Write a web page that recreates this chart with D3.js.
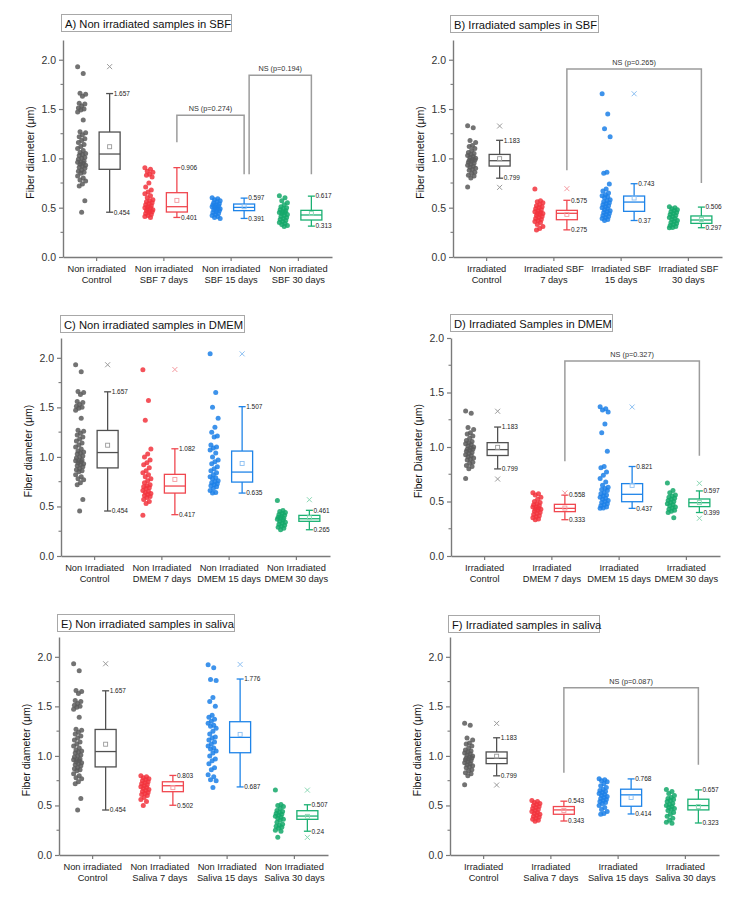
<!DOCTYPE html>
<html><head><meta charset="utf-8">
<script src="https://cdn.jsdelivr.net/npm/d3@7"></script>
<style>body{margin:0;background:#fff} text{font-family:Arial,"Liberation Sans",sans-serif}</style>
</head><body><svg id="c" width="754" height="910"></svg>
<script>
// ---------------- DATA ----------------
const titles = ["A) Non irradiated samples in SBF","B) Irradiated samples in SBF","C) Non irradiated samples in DMEM","D) Irradiated Samples in DMEM","E) Non irradiated samples in saliva","F) Irradiated samples in saliva"];
const yLabels = ["Fiber diameter (μm)","Fiber diameter (μm)","Fiber diameter (μm)","Fiber Diameter (μm)","Fiber diameter (μm)","Fiber diameter (μm)"];
const yMax = [2.2, 2.2, 2.2, 2.0, 2.2, 2.2];
const yTicks = [0.0, 0.5, 1.0, 1.5, 2.0];
const yMinorTicks = [0.25, 0.75, 1.25, 1.75];

const catsA = [["Non irradiated","Control"],["Non irradiated","SBF 7 days"],["Non irradiated","SBF 15 days"],["Non irradiated","SBF 30 days"]];
const catsB = [["Irradiated","Control"],["Irradiated SBF","7 days"],["Irradiated SBF","15 days"],["Irradiated SBF","30 days"]];
const catsC = [["Non Irradiated","Control"],["Non Irradiated","DMEM 7 days"],["Non Irradiated","DMEM 15 days"],["Non Irradiated","DMEM 30 days"]];
const catsD = [["Irradiated","Control"],["Irradiated","DMEM 7 days"],["Irradiated","DMEM 15 days"],["Irradiated","DMEM 30 days"]];
const catsE = [["Non irradiated","Control"],["Non Irradiated","Saliva 7 days"],["Non Irradiated","Saliva 15 days"],["Non Irradiated","Saliva 30 days"]];
const catsF = [["Irradiated","Control"],["Irradiated","Saliva 7 days"],["Irradiated","Saliva 15 days"],["Irradiated","Saliva 30 days"]];

// scatter values (µm)
const ctrlNI = [1.93,1.86,1.66,1.65,1.63,1.56,1.55,1.53,1.51,1.50,1.49,1.47,1.39,1.27,1.26,1.24,1.22,1.20,1.18,1.16,1.14,1.12,1.10,1.08,1.06,1.05,1.04,1.03,1.01,1.00,0.99,0.97,0.96,0.96,0.95,0.94,0.93,0.92,0.91,0.90,0.88,0.87,0.86,0.85,0.82,0.80,0.78,0.77,0.74,0.72,0.57,0.454];
const ctrlIR = [1.33,1.31,1.18,1.16,1.13,1.12,1.10,1.08,1.06,1.05,1.04,1.03,1.02,1.01,1.00,0.99,0.98,0.98,0.97,0.96,0.95,0.94,0.93,0.92,0.91,0.90,0.89,0.88,0.86,0.85,0.83,0.82,0.80,0.71];
const sbf7NI = [0.906,0.89,0.87,0.86,0.84,0.83,0.81,0.75,0.71,0.68,0.66,0.64,0.62,0.60,0.58,0.57,0.56,0.55,0.54,0.53,0.52,0.51,0.50,0.50,0.49,0.48,0.47,0.47,0.46,0.45,0.44,0.43,0.42,0.41,0.40];
const sbf15NI = [0.60,0.59,0.58,0.57,0.56,0.55,0.54,0.53,0.53,0.52,0.51,0.51,0.50,0.50,0.49,0.48,0.48,0.47,0.46,0.45,0.44,0.43,0.42,0.41,0.40,0.39];
const sbf30NI = [0.62,0.60,0.57,0.55,0.53,0.51,0.50,0.49,0.48,0.47,0.46,0.45,0.45,0.44,0.43,0.42,0.41,0.40,0.39,0.38,0.37,0.36,0.35,0.34,0.33,0.32,0.31];
const sbf7IR = [0.69,0.57,0.56,0.55,0.53,0.52,0.51,0.50,0.49,0.48,0.47,0.46,0.45,0.44,0.44,0.43,0.42,0.41,0.40,0.39,0.38,0.37,0.36,0.35,0.33,0.31,0.29,0.275];
const sbf15IR = [1.655,1.45,1.30,1.22,0.86,0.85,0.74,0.69,0.67,0.65,0.63,0.62,0.61,0.60,0.58,0.57,0.56,0.55,0.54,0.53,0.52,0.51,0.50,0.49,0.48,0.47,0.46,0.45,0.44,0.43,0.42,0.41,0.40,0.39,0.38,0.37];
const sbf30IR = [0.51,0.50,0.49,0.48,0.47,0.46,0.45,0.44,0.43,0.42,0.41,0.40,0.39,0.38,0.37,0.36,0.35,0.34,0.33,0.32,0.31,0.30,0.297];
const dmem7NI = [1.88,1.57,1.37,1.08,1.03,1.00,0.97,0.94,0.92,0.89,0.86,0.84,0.82,0.80,0.78,0.76,0.74,0.72,0.71,0.70,0.69,0.68,0.66,0.65,0.64,0.63,0.62,0.61,0.60,0.59,0.57,0.55,0.53,0.41];
const dmem15NI = [2.04,1.65,1.50,1.39,1.30,1.25,1.21,1.20,1.12,1.10,1.09,1.07,1.04,1.00,0.97,0.95,0.93,0.90,0.88,0.86,0.84,0.82,0.80,0.79,0.78,0.76,0.75,0.74,0.73,0.72,0.71,0.70,0.68,0.66,0.64,0.635];
const dmem30NI = [0.56,0.46,0.45,0.44,0.43,0.42,0.41,0.40,0.39,0.38,0.38,0.37,0.36,0.35,0.34,0.33,0.32,0.31,0.30,0.29,0.28,0.265];
const dmem7IR = [0.58,0.57,0.56,0.54,0.52,0.50,0.49,0.48,0.47,0.46,0.45,0.45,0.44,0.43,0.43,0.42,0.41,0.40,0.39,0.38,0.37,0.36,0.35,0.34,0.333];
const dmem15IR = [1.37,1.35,1.34,1.32,1.21,1.13,0.96,0.82,0.81,0.77,0.74,0.71,0.68,0.65,0.63,0.62,0.61,0.60,0.58,0.57,0.56,0.55,0.54,0.53,0.52,0.51,0.50,0.49,0.48,0.47,0.46,0.45,0.44,0.437];
const dmem30IR = [0.67,0.60,0.58,0.56,0.55,0.54,0.53,0.52,0.51,0.50,0.49,0.48,0.47,0.46,0.45,0.44,0.43,0.42,0.41,0.40,0.35];
const sal7NI = [0.80,0.79,0.78,0.77,0.76,0.75,0.74,0.73,0.72,0.71,0.70,0.69,0.68,0.67,0.66,0.65,0.64,0.63,0.62,0.61,0.60,0.58,0.56,0.54,0.50];
const sal15NI = [1.92,1.89,1.77,1.76,1.59,1.55,1.50,1.41,1.39,1.37,1.35,1.33,1.31,1.30,1.28,1.25,1.22,1.19,1.18,1.16,1.14,1.12,1.10,1.08,1.07,1.05,1.03,1.00,0.97,0.95,0.92,0.88,0.86,0.81,0.79,0.76,0.75,0.68];
const sal30NI = [0.655,0.51,0.50,0.49,0.47,0.45,0.44,0.43,0.42,0.41,0.40,0.39,0.38,0.37,0.36,0.35,0.33,0.31,0.30,0.29,0.28,0.27,0.25,0.24,0.18];
const sal7IR = [0.55,0.54,0.53,0.52,0.51,0.50,0.49,0.48,0.47,0.46,0.45,0.44,0.43,0.42,0.41,0.40,0.39,0.38,0.37,0.36,0.35,0.34];
const sal15IR = [0.77,0.76,0.75,0.74,0.72,0.70,0.68,0.66,0.65,0.64,0.63,0.62,0.61,0.60,0.59,0.58,0.57,0.56,0.55,0.54,0.53,0.52,0.50,0.48,0.46,0.44,0.42,0.41];
const sal30IR = [0.66,0.64,0.62,0.60,0.58,0.57,0.56,0.55,0.54,0.52,0.51,0.50,0.49,0.48,0.47,0.46,0.45,0.43,0.41,0.39,0.37,0.35,0.33,0.32];

// box stats: [q1, median, q3, whiskerLow, whiskerHigh, mean]
const boxCtrlNI = [0.889,1.044,1.267,0.454,1.657,1.118];
const boxCtrlIR = [0.922,0.976,1.04,0.799,1.183,0.997];
const boxSbf7NI = [0.456,0.51,0.652,0.401,0.906,0.574];
const boxSbf15NI = [0.47,0.503,0.537,0.391,0.597,0.51];
const boxSbf30NI = [0.375,0.426,0.473,0.313,0.617,0.44];
const boxSbf7IR = [0.378,0.443,0.473,0.275,0.575,0.432];
const boxSbf15IR = [0.463,0.557,0.618,0.37,0.743,0.598];
const boxSbf30IR = [0.341,0.375,0.416,0.297,0.506,0.38];
const boxDmem7NI = [0.635,0.706,0.824,0.417,1.082,0.773];
const boxDmem15NI = [0.746,0.847,1.059,0.635,1.507,0.934];
const boxDmem30NI = [0.35,0.376,0.41,0.265,0.461,0.386];
const boxDmem7IR = [0.407,0.437,0.474,0.333,0.558,0.44];
const boxDmem15IR = [0.498,0.566,0.664,0.437,0.821,0.648];
const boxDmem30IR = [0.453,0.489,0.523,0.399,0.597,0.49];
const boxSal7NI = [0.639,0.699,0.739,0.502,0.803,0.68];
const boxSal15NI = [1.032,1.187,1.345,0.687,1.776,1.217];
const boxSal30NI = [0.36,0.393,0.447,0.24,0.507,0.39];
const boxSal7IR = [0.411,0.455,0.489,0.343,0.543,0.45];
const boxSal15IR = [0.492,0.607,0.664,0.414,0.768,0.58];
const boxSal30IR = [0.455,0.499,0.563,0.323,0.657,0.49];

// min / max (x) markers
const xCtrlNI = [1.93], xCtrlIR = [1.328,0.706];
const xSbf7NI = [], xSbf15NI = [], xSbf30NI = [];
const xSbf7IR = [0.693], xSbf15IR = [1.655], xSbf30IR = [];
const xDmem7NI = [1.882], xDmem15NI = [2.04], xDmem30NI = [0.568];
const xDmem7IR = [0.578], xDmem15IR = [1.367], xDmem30IR = [0.667,0.346];
const xSal7NI = [], xSal15NI = [1.923], xSal30NI = [0.655,0.178];
const xSal7IR = [], xSal15IR = [], xSal30IR = [];

// significance brackets: [fromCat, toCat, top, leftEnd, rightEnd, label]
const bracketsA = [[1,2,1.437,1.164,0.84,"NS (p=0.274)"],[2,3,1.842,0.84,0.84,"NS (p=0.194)"]];
const bracketsB = [[1,3,1.906,0.88,0.75,"NS (p=0.265)"]];
const bracketsC = [];
const bracketsD = [[1,3,1.79,0.87,0.92,"NS (p=0.327)"]];
const bracketsE = [];
const bracketsF = [[1,3,1.687,0.83,0.91,"NS (p=0.087)"]];

// ---------------- STYLE / LAYOUT ----------------
const colPoint = ["#5b5b5b","#f2343d","#1c80e8","#14a86a"];
const colBox = ["#505050","#f04850","#1f84e8","#1bb072"];
const colLight = ["#9a9a9a","#f59aa0","#8cbff2","#8ad8b4"];
const layout = [
  {x0:63, yTop:40, yBot:257, tx:61, ty:14, tw:170},
  {x0:453, yTop:40, yBot:257, tx:450, ty:15, tw:148},
  {x0:61, yTop:338, yBot:556, tx:60, ty:315, tw:184},
  {x0:451, yTop:338, yBot:556, tx:450, ty:314, tw:162},
  {x0:59, yTop:637, yBot:855, tx:57, ty:614, tw:177},
  {x0:450, yTop:637, yBot:855, tx:448, ty:615, tw:151}
];

const panels = [
  {cats:catsA, pts:[ctrlNI,sbf7NI,sbf15NI,sbf30NI], box:[boxCtrlNI,boxSbf7NI,boxSbf15NI,boxSbf30NI], xs:[xCtrlNI,xSbf7NI,xSbf15NI,xSbf30NI], br:bracketsA},
  {cats:catsB, pts:[ctrlIR,sbf7IR,sbf15IR,sbf30IR], box:[boxCtrlIR,boxSbf7IR,boxSbf15IR,boxSbf30IR], xs:[xCtrlIR,xSbf7IR,xSbf15IR,xSbf30IR], br:bracketsB},
  {cats:catsC, pts:[ctrlNI,dmem7NI,dmem15NI,dmem30NI], box:[boxCtrlNI,boxDmem7NI,boxDmem15NI,boxDmem30NI], xs:[xCtrlNI,xDmem7NI,xDmem15NI,xDmem30NI], br:bracketsC},
  {cats:catsD, pts:[ctrlIR,dmem7IR,dmem15IR,dmem30IR], box:[boxCtrlIR,boxDmem7IR,boxDmem15IR,boxDmem30IR], xs:[xCtrlIR,xDmem7IR,xDmem15IR,xDmem30IR], br:bracketsD},
  {cats:catsE, pts:[ctrlNI,sal7NI,sal15NI,sal30NI], box:[boxCtrlNI,boxSal7NI,boxSal15NI,boxSal30NI], xs:[xCtrlNI,xSal7NI,xSal15NI,xSal30NI], br:bracketsE},
  {cats:catsF, pts:[ctrlIR,sal7IR,sal15IR,sal30IR], box:[boxCtrlIR,boxSal7IR,boxSal15IR,boxSal30IR], xs:[xCtrlIR,xSal7IR,xSal15IR,xSal30IR], br:bracketsF}
];

const svg = d3.select("#c");
svg.append("rect").attr("width",754).attr("height",910).attr("fill","#fff");
const axisCol = "#7a7a7a";

panels.forEach((p, pi) => {
  const L = layout[pi];
  const g = svg.append("g");
  const x = d3.scaleBand().domain(d3.range(p.cats.length)).range([L.x0, L.x0 + 269]);
  const y = d3.scaleLinear().domain([0, yMax[pi]]).range([L.yBot, L.yTop]);
  const cx = i => x(i) + x.bandwidth()/2;

  // title box
  g.append("rect").attr("x",L.tx+0.5).attr("y",L.ty+0.5).attr("width",L.tw).attr("height",17)
    .attr("fill","#fff").attr("stroke","#a8a8a8").attr("stroke-width",1);
  g.append("text").attr("x",L.tx+4).attr("y",L.ty+13.5).attr("font-size",11.2).attr("fill","#111").text(titles[pi]);

  // y axis
  const ya = g.append("g").attr("transform",`translate(${L.x0},0)`)
    .call(d3.axisLeft(y).tickValues(yTicks.filter(v=>v<=yMax[pi])).tickFormat(d3.format(".1f")).tickSize(4).tickSizeOuter(0).tickPadding(3));
  ya.selectAll("text").attr("font-size",10.5).attr("fill","#333").style("font-family","Arial, 'Liberation Sans', sans-serif");
  ya.selectAll("line").attr("stroke",axisCol).attr("stroke-width",1.2);
  ya.select(".domain").attr("stroke",axisCol).attr("stroke-width",1.4);
  g.selectAll(null).data(yMinorTicks.filter(v=>v<yMax[pi])).enter().append("line")
    .attr("x1",L.x0-2.5).attr("x2",L.x0).attr("y1",d=>y(d)).attr("y2",d=>y(d))
    .attr("stroke",axisCol).attr("stroke-width",1.1);

  // y label
  g.append("text").attr("transform",`translate(${L.x0-29},${(L.yTop+L.yBot)/2+4}) rotate(-90)`)
    .attr("text-anchor","middle").attr("font-size",10.5).attr("fill","#111").text(yLabels[pi]);

  // x axis
  const xa = g.append("g").attr("transform",`translate(0,${L.yBot})`)
    .call(d3.axisBottom(x).tickSize(4).tickSizeOuter(0).tickFormat(""));
  xa.selectAll("line").attr("stroke",axisCol).attr("stroke-width",1.2);
  xa.select(".domain").attr("stroke",axisCol).attr("stroke-width",1.4);
  p.cats.forEach((c,i) => {
    const t = g.append("text").attr("text-anchor","middle").attr("font-size",9.3).attr("fill","#222");
    c.forEach((line,k) => t.append("tspan").attr("x",cx(i)).attr("y",L.yBot+15+k*11).text(line));
  });

  // brackets
  p.br.forEach((b,bi) => {
    const lx = cx(b[0]) + 13 + (bi>0 ? 5 : 0), rx = cx(b[1]) + 13;
    g.append("path").attr("d",`M${lx},${y(b[3])}V${y(b[2])}H${rx}V${y(b[4])}`)
      .attr("fill","none").attr("stroke","#9c9c9c").attr("stroke-width",1.5);
    g.append("text").attr("x",(lx+rx)/2).attr("y",y(b[2])-4).attr("text-anchor","middle")
      .attr("font-size",7.3).attr("fill","#333").text(b[5]);
  });

  // groups
  p.pts.forEach((vals,i) => {
    const sc = cx(i) - 15, bc = cx(i) + 13;
    // scatter strip (deterministic horizontal spread)
    g.append("g").selectAll("circle").data(vals).enter().append("circle")
      .attr("cx",(d,k)=> sc + (((k*7)%11) - 5) * 0.8)
      .attr("cy",d=>y(d)).attr("r",2.5)
      .attr("fill",colPoint[i]).attr("fill-opacity",0.85);
    const s = p.box[i];
    const bg = g.append("g").attr("stroke",colBox[i]).attr("fill","none").attr("stroke-width",1.3);
    bg.append("rect").attr("x",bc-10.5).attr("y",y(s[2])).attr("width",21).attr("height",y(s[0])-y(s[2]));
    bg.append("line").attr("x1",bc-10.5).attr("x2",bc+10.5).attr("y1",y(s[1])).attr("y2",y(s[1]));
    bg.append("line").attr("x1",bc).attr("x2",bc).attr("y1",y(s[2])).attr("y2",y(s[4]));
    bg.append("line").attr("x1",bc).attr("x2",bc).attr("y1",y(s[0])).attr("y2",y(s[3]));
    bg.append("line").attr("x1",bc-3.5).attr("x2",bc+3.5).attr("y1",y(s[4])).attr("y2",y(s[4]));
    bg.append("line").attr("x1",bc-3.5).attr("x2",bc+3.5).attr("y1",y(s[3])).attr("y2",y(s[3]));
    // mean square
    g.append("rect").attr("x",bc-2).attr("y",y(s[5])-2).attr("width",4).attr("height",4)
      .attr("fill","none").attr("stroke",colLight[i]).attr("stroke-width",0.9);
    // min/max crosses
    p.xs[i].forEach(v => {
      g.append("path").attr("d",`M${bc-2.5},${y(v)-2.5}L${bc+2.5},${y(v)+2.5}M${bc-2.5},${y(v)+2.5}L${bc+2.5},${y(v)-2.5}`)
        .attr("stroke",colLight[i]).attr("stroke-width",1);
    });
    // whisker labels
    [s[4], s[3]].forEach(v => {
      g.append("text").attr("x",bc+4).attr("y",y(v)+2.3).attr("font-size",6.5).attr("fill","#222").text(String(v));
    });
  });
});
</script>
</body></html>
